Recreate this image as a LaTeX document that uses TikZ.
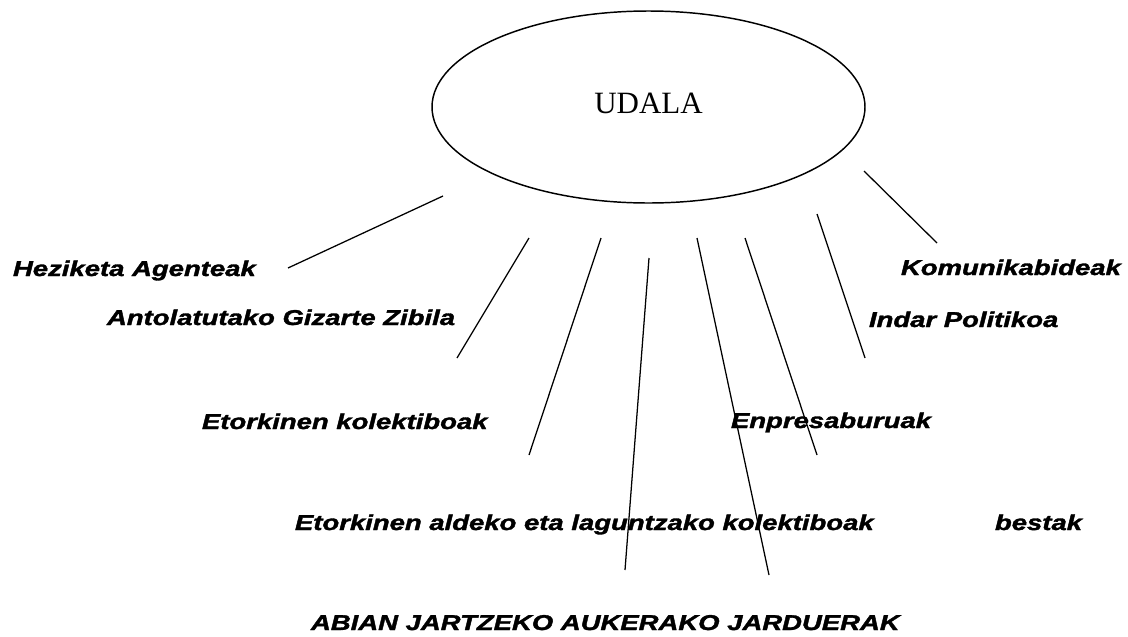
\documentclass[tikz,border=0pt]{standalone}
\usepackage{fontspec}
\usepackage{graphicx}
\setmainfont{Liberation Serif}
\newfontfamily\labfont{Liberation Sans}[BoldItalicFeatures={FakeBold=1.5}]
\usetikzlibrary{shapes.geometric}
\tikzset{
  lbl/.style={anchor=base west, inner sep=0pt, outer sep=0pt,
    font=\labfont\bfseries\itshape\fontsize{16.1pt}{19pt}\selectfont},
  conn/.style={line width=0.95pt, black},
  center/.style={draw=black, line width=1.1pt, ellipse, minimum width=433*0.75pt, minimum height=192*0.75pt, inner sep=0pt}
}
\newcommand{\wide}[1]{\scalebox{1.28}[1]{#1}}
\begin{document}
\begin{tikzpicture}[x=0.75pt,y=-0.75pt]
\useasboundingbox (0,0) rectangle (1128,636);
\fill[white] (0,0) rectangle (1128,636);
% central ellipse
\node[center] (udala) at (648.5,107) {};
\node[anchor=base, inner sep=0pt, font=\fontsize{23.25pt}{26pt}\selectfont] (udalatxt) at (648.5,113) {UDALA};
% labels
\node[lbl] (hez) at (13,276) {\wide{Heziketa Agenteak}};
\node[lbl] (kom) at (901,275) {\wide{Komunikabideak}};
\node[lbl] (ant) at (107,325) {\wide{Antolatutako Gizarte Zibila}};
\node[lbl] (ind) at (869,327) {\wide{Indar Politikoa}};
\node[lbl] (etk) at (202,429) {\wide{Etorkinen kolektiboak}};
\node[lbl] (enp) at (731,428) {\wide{Enpresaburuak}};
\node[lbl] (eta) at (295,530) {\wide{Etorkinen aldeko eta laguntzako kolektiboak}};
\node[lbl] (bes) at (995,530) {\wide{bestak}};
\node[lbl] (abi) at (311,630) {\wide{ABIAN JARTZEKO AUKERAKO JARDUERAK}};
% connector end points
\coordinate (a1) at (443,196); \coordinate (b1) at (288,268);
\coordinate (a2) at (529,238); \coordinate (b2) at (457,358);
\coordinate (a3) at (601,238); \coordinate (b3) at (529,455);
\coordinate (a4) at (649,258); \coordinate (b4) at (625,570);
\coordinate (a5) at (697,238); \coordinate (b5) at (769,575);
\coordinate (a6) at (745,238); \coordinate (b6) at (817,455);
\coordinate (a7) at (817,214); \coordinate (b7) at (865,358);
\coordinate (a8) at (864,171); \coordinate (b8) at (937,243);
\draw[conn] (a1) -- (b1);
\draw[conn] (a2) -- (b2);
\draw[conn] (a3) -- (b3);
\draw[conn] (a4) -- (b4);
\draw[conn] (a5) -- (b5);
\draw[conn] (a6) -- (b6);
\draw[conn] (a7) -- (b7);
\draw[conn] (a8) -- (b8);
\end{tikzpicture}
\end{document}
